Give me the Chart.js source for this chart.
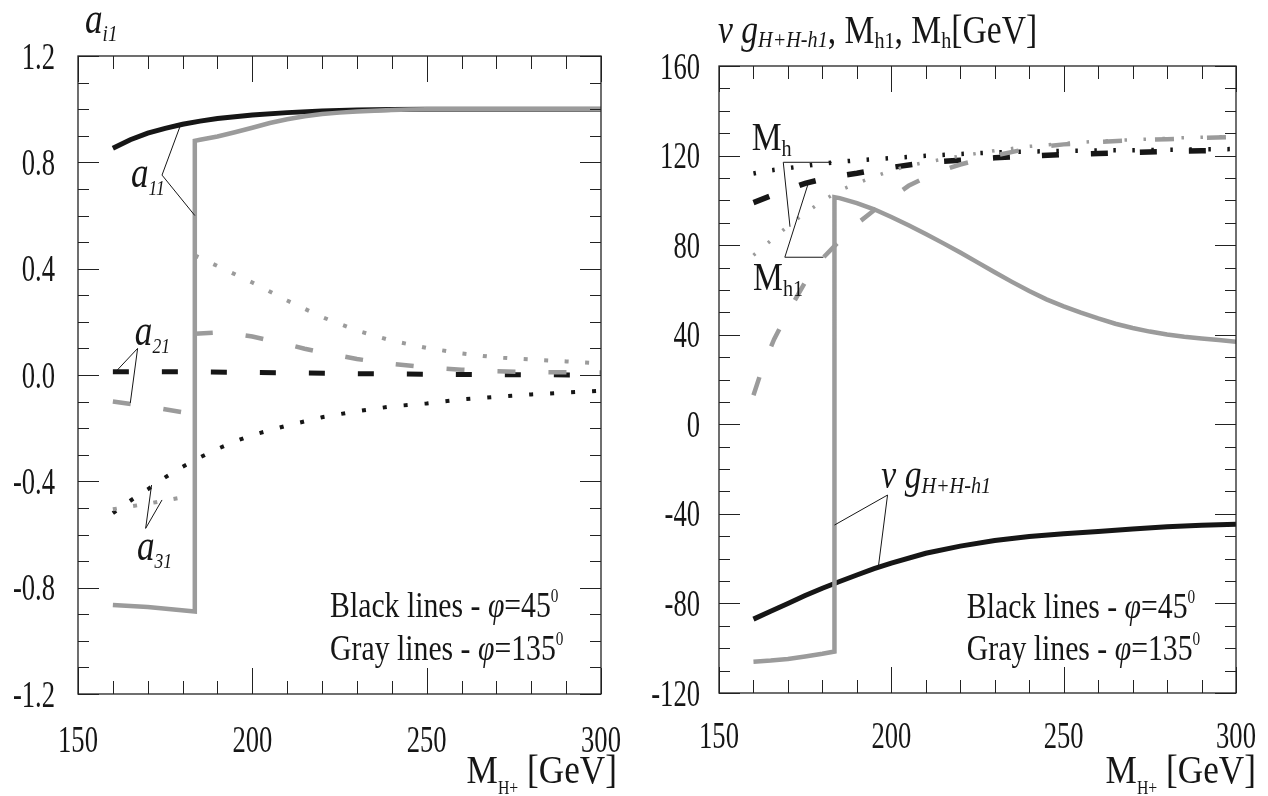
<!DOCTYPE html>
<html>
<head>
<meta charset="utf-8">
<script src="https://cdn.jsdelivr.net/npm/chart.js@4.4.1/dist/chart.umd.min.js"></script>
<style>
html, body { margin: 0; padding: 0; background: #fff; }
#wrap { position: relative; width: 1268px; height: 796px; overflow: hidden; }
#chartA { position: absolute; left: 0; top: 0; }
#chartB { position: absolute; left: 640px; top: 0; }
</style>
</head>
<body>
<div id="wrap">
  <canvas id="chartA" width="640" height="796"></canvas>
  <canvas id="chartB" width="628" height="796"></canvas>
</div>
<script>
// Graduations
const xTicks = [150, 200, 250, 300];
const leftYTicks = [-1.2, -0.8, -0.4, 0.0, 0.4, 0.8, 1.2];
const rightYTicks = [-120, -80, -40, 0, 40, 80, 120, 160];

// --- Panneau gauche : a_i1 ---
// a11, phi = 45 (noir plein)
const a11BlackX = [160, 165, 170, 175, 180, 185, 190, 200, 210, 220, 230, 240, 250, 275, 300];
const a11BlackY = [0.853, 0.885, 0.91, 0.928, 0.943, 0.955, 0.965, 0.978, 0.987, 0.993, 0.997, 0.999, 1.0, 1.0, 1.0];
// a11, phi = 135 (gris plein, saut a 183.5)
const a11GrayX = [160, 170, 183.5, 183.5, 185, 190, 195, 200, 205, 210, 215, 220, 225, 230, 235, 240, 245, 250, 300];
const a11GrayY = [-0.865, -0.873, -0.89, 0.881, 0.885, 0.897, 0.913, 0.93, 0.948, 0.962, 0.973, 0.982, 0.987, 0.991, 0.994, 0.997, 0.999, 1.0, 1.0];
// a21
const a21BlackX = [160, 180, 200, 230, 260, 300];
const a21BlackY = [0.012, 0.012, 0.01, 0.005, 0.002, 0.0];
const a21GrayX = [160, 170, 183.5, 183.5, 183.5, 190, 195, 200, 205, 210, 215, 220, 230, 240, 250, 260, 270, 280, 290, 300];
const a21GrayY = [-0.10, -0.118, -0.148, null, 0.155, 0.16, 0.155, 0.145, 0.13, 0.115, 0.099, 0.085, 0.06, 0.042, 0.029, 0.02, 0.014, 0.011, 0.01, 0.009];
// a31
const a31BlackX = [160, 165, 170, 175, 180, 185, 190, 195, 200, 210, 220, 230, 240, 250, 260, 270, 280, 290, 300];
const a31BlackY = [-0.52, -0.473, -0.43, -0.385, -0.345, -0.31, -0.278, -0.25, -0.226, -0.19, -0.159, -0.136, -0.118, -0.107, -0.092, -0.082, -0.073, -0.066, -0.059];
const a31GrayX = [160, 170, 183.5, 183.5, 183.5, 190, 200, 210, 220, 230, 240, 250, 260, 270, 280, 290, 300];
const a31GrayY = [-0.505, -0.484, -0.452, null, 0.45, 0.41, 0.348, 0.28, 0.218, 0.167, 0.129, 0.102, 0.081, 0.066, 0.058, 0.051, 0.043];

// --- Panneau droit : v g, M_h1, M_h ---
const vgBlackX = [160, 165, 170, 175, 180, 185, 190, 195, 200, 210, 220, 230, 240, 250, 260, 270, 280, 290, 300];
const vgBlackY = [-87, -83.5, -80, -76.5, -73.2, -70.2, -67.3, -64.5, -62, -57.6, -54.4, -51.9, -50.1, -48.9, -47.9, -46.8, -45.8, -45.1, -44.6];
const vgGrayX = [160, 165, 170, 175, 180, 183.5, 183.5, 185, 190, 195, 200, 205, 210, 215, 220, 225, 230, 235, 240, 245, 250, 255, 260, 265, 270, 275, 280, 285, 290, 295, 300];
const vgGrayY = [-106, -105.5, -104.8, -103.7, -102.5, -101.5, 101.4, 101, 98.8, 96, 92.6, 88.9, 85, 80.9, 76.7, 72.3, 67.9, 63.6, 59.5, 55.8, 52.7, 49.9, 47.3, 44.9, 43, 41.4, 40.1, 39.1, 38.3, 37.6, 36.9];
const mhBlackX = [160, 165, 170, 175, 180, 185, 190, 195, 200, 210, 220, 230, 240, 250, 260, 270, 280, 290, 300];
const mhBlackY = [112, 113.4, 114.4, 115.4, 116.4, 117.2, 117.9, 118.4, 118.9, 119.9, 120.7, 121.4, 121.8, 122.1, 122.3, 122.4, 122.6, 122.8, 122.9];
const mhGrayX = [160, 165, 170, 175, 180, 185, 190, 195, 200, 205, 210, 220, 230, 240, 250, 260, 270, 280, 290, 300];
const mhGrayY = [75.5, 82, 88.5, 94.3, 99.7, 104.4, 107.6, 110.6, 113.3, 115.4, 117, 119.8, 122.2, 124.1, 125.4, 126.4, 127.1, 127.7, 128.2, 128.6];
const mh1BlackX = [160, 165, 170, 175, 180, 185, 190, 195, 200, 210, 220, 230, 240, 250, 260, 270, 280, 290, 300];
const mh1BlackY = [99, 102, 104.8, 107.6, 109.5, 111, 112.1, 113.5, 114.7, 116.9, 117.9, 119, 119.8, 120.5, 120.9, 121.4, 121.8, 122.1, 122.3];
const mh1GrayX = [160, 163, 166, 170, 175, 180, 185, 190, 195, 200, 205, 210, 215, 220, 230, 240, 250, 260, 270, 280, 290, 300];
const mh1GrayY = [13, 27, 38, 50, 63.5, 74, 82, 89.5, 95.6, 101, 106.5, 110.3, 113.5, 116, 120, 123.2, 125, 126.1, 126.8, 127.3, 127.9, 128.3];

const BLACK = '#161616';
const GRAY = '#9b9b9b';
const SERIF = '"Liberation Serif", "Times New Roman", serif';

function serie(xs, ys, color, width, dash) {
    return {
        data: xs.map((x, i) => ({ x: x, y: ys[i] })),
        borderColor: color,
        borderWidth: width,
        borderDash: dash || [],
        borderCapStyle: 'butt',
        pointRadius: 0,
        tension: 0,
        spanGaps: false,
        fill: false,
        order: color === GRAY ? 0 : 1 // gris par-dessus
    };
}

// Texte en plusieurs morceaux : [texte, taille, italique, decalage vertical]
function runs(ctx, parts, x, y, align, sx) {
    ctx.save();
    ctx.fillStyle = BLACK;
    ctx.textBaseline = 'alphabetic';
    ctx.textAlign = 'left';
    let total = 0;
    const widths = parts.map(p => {
        ctx.font = (p[2] ? 'italic ' : '') + p[1] + 'px ' + SERIF;
        const w = ctx.measureText(p[0]).width * sx;
        total += w;
        return w;
    });
    let cx = align === 'right' ? x - total : align === 'center' ? x - total / 2 : x;
    parts.forEach((p, i) => {
        ctx.font = (p[2] ? 'italic ' : '') + p[1] + 'px ' + SERIF;
        ctx.save();
        ctx.translate(cx, y + (p[3] || 0));
        ctx.scale(sx, 1);
        ctx.fillText(p[0], 0, 0);
        ctx.restore();
        cx += widths[i];
    });
    ctx.restore();
}

function leader(chart, apex, ends) {
    const { ctx, scales: { x, y } } = chart;
    ctx.save();
    ctx.strokeStyle = BLACK;
    ctx.lineWidth = 1;
    ends.forEach(e => {
        ctx.beginPath();
        ctx.moveTo(x.getPixelForValue(apex[0]), y.getPixelForValue(apex[1]));
        ctx.lineTo(x.getPixelForValue(e[0]), y.getPixelForValue(e[1]));
        ctx.stroke();
    });
    ctx.restore();
}

function px(chart, gev, val) {
    return [chart.scales.x.getPixelForValue(gev), chart.scales.y.getPixelForValue(val)];
}

// Cadre, graduations internes et etiquettes
function frame(chart, yLabels, yStep, fmt, gap, xBase) {
    const { ctx, chartArea: a, scales: { x, y } } = chart;
    ctx.save();
    ctx.strokeStyle = '#222';
    ctx.lineWidth = 1.3;
    ctx.strokeRect(a.left, a.top, a.right - a.left, a.bottom - a.top);
    ctx.lineWidth = 1;
    ctx.beginPath();
    for (let v = x.min; v <= x.max + 0.001; v += 10) {
        const p = Math.round(x.getPixelForValue(v)) + 0.5;
        const len = xTicks.includes(v) ? 26 : 13;
        ctx.moveTo(p, a.top); ctx.lineTo(p, a.top + len);
        ctx.moveTo(p, a.bottom); ctx.lineTo(p, a.bottom - len);
    }
    const n = Math.round((y.max - y.min) / yStep);
    for (let i = 0; i <= n; i++) {
        const p = Math.round(y.getPixelForValue(y.min + i * yStep)) + 0.5;
        const len = i % 4 === 0 ? 21 : 11;
        ctx.moveTo(a.left, p); ctx.lineTo(a.left + len, p);
        ctx.moveTo(a.right, p); ctx.lineTo(a.right - len, p);
    }
    ctx.stroke();
    ctx.restore();
    yLabels.forEach(v => runs(ctx, [[fmt(v), 38, false, 0]], a.left - gap, y.getPixelForValue(v) + 12.5, 'right', 0.7));
    xTicks.forEach(v => runs(ctx, [[String(v), 38, false, 0]], x.getPixelForValue(v), xBase, 'center', 0.7));
}

function legendText(chart, gev, v1, v2) {
    const ctx = chart.ctx;
    const p1 = px(chart, gev, v1), p2 = px(chart, gev, v2);
    runs(ctx, [['Black lines - ', 35, false, 0], ['\u03C6', 35, true, 0], ['=45', 35, false, 0], ['0', 18, false, -15]], p1[0], p1[1], 'left', 0.85);
    runs(ctx, [['Gray lines - ', 35, false, 0], ['\u03C6', 35, true, 0], ['=135', 35, false, 0], ['0', 18, false, -15]], p2[0], p2[1], 'left', 0.85);
}

const decorLeft = {
    id: 'decorLeft',
    afterDraw(chart) {
        const ctx = chart.ctx;
        frame(chart, leftYTicks, 0.1, v => v.toFixed(1), 23, 752);
        // titres
        runs(ctx, [['a', 44, true, 0], ['i1', 24, true, 8]], 85, 33, 'left', 0.8);
        runs(ctx, [['M', 40, false, 0], ['H+', 18, false, 11], [' [GeV]', 40, false, 0]], 617, 783, 'right', 0.88);
        // etiquettes des courbes
        leader(chart, [174.1, 0.752], [[179.4, 0.94], [183.5, 0.60]]);
        let p = px(chart, 165.2, 0.707);
        runs(ctx, [['a', 44, true, 0], ['11', 22, true, 8]], p[0], p[1], 'left', 0.8);
        leader(chart, [167.1, 0.10], [[161.3, 0.019], [165.0, -0.105]]);
        p = px(chart, 166.3, 0.113);
        runs(ctx, [['a', 44, true, 0], ['21', 22, true, 8]], p[0], p[1], 'left', 0.8);
        leader(chart, [169.4, -0.577], [[171.1, -0.414], [174.1, -0.47]]);
        p = px(chart, 166.9, -0.696);
        runs(ctx, [['a', 44, true, 0], ['31', 22, true, 8]], p[0], p[1], 'left', 0.8);
        legendText(chart, 222.3, -0.91, -1.072);
    }
};

const decorRight = {
    id: 'decorRight',
    afterDraw(chart) {
        const ctx = chart.ctx;
        frame(chart, rightYTicks, 10, v => String(v), 19, 748);
        runs(ctx, [['v ', 40, true, 0], ['g', 40, true, 0], ['H+H-h1', 24, true, 4], [', M', 40, false, 0], ['h1', 24, false, 5], [', M', 40, false, 0], ['h', 24, false, 5], ['[GeV]', 40, false, 0]], 78, 43, 'left', 0.84);
        runs(ctx, [['M', 40, false, 0], ['H+', 18, false, 11], [' [GeV]', 40, false, 0]], 616, 783, 'right', 0.88);
        // M_h
        leader(chart, [168.65, 117.0], [[182.7, 117.0], [170.6, 88.2]]);
        let p = px(chart, 159.5, 122.5);
        runs(ctx, [['M', 40, false, 0], ['h', 24, false, 6]], p[0], p[1], 'left', 0.84);
        // M_h1
        leader(chart, [169.1, 74.6], [[180.3, 74.6], [175.9, 107.6]]);
        p = px(chart, 159.9, 60);
        runs(ctx, [['M', 40, false, 0], ['h1', 24, false, 6]], p[0], p[1], 'left', 0.84);
        // v g
        leader(chart, [198.9, -31.6], [[183.5, -45], [196.3, -62.9]]);
        p = px(chart, 197.1, -28.5);
        runs(ctx, [['v ', 40, true, 0], ['g', 40, true, 0], ['H+H-h1', 24, true, 5]], p[0], p[1], 'left', 0.84);
        legendText(chart, 221.9, -86.5, -105.3);
    }
};

function makeChart(id, datasets, yMin, yMax, padding, plugin) {
    return new Chart(document.getElementById(id).getContext('2d'), {
        type: 'line',
        data: { datasets: datasets },
        options: {
            responsive: false,
            animation: false,
            events: [],
            layout: { padding: padding },
            plugins: { legend: { display: false }, tooltip: { enabled: false } },
            scales: {
                x: { type: 'linear', min: 150, max: 300, display: false },
                y: { type: 'linear', min: yMin, max: yMax, display: false }
            }
        },
        plugins: [plugin]
    });
}

makeChart('chartA', [
    serie(a11GrayX, a11GrayY, GRAY, 4.5),
    serie(a21GrayX, a21GrayY, GRAY, 4.5, [18, 33]),
    serie(a31GrayX, a31GrayY, GRAY, 4, [4, 16.5]),
    serie(a11BlackX, a11BlackY, BLACK, 5),
    serie(a21BlackX, a21BlackY, BLACK, 5, [16, 33]),
    serie(a31BlackX, a31BlackY, BLACK, 4, [4, 17])
], -1.2, 1.2, { left: 78, top: 56, right: 39, bottom: 102 }, decorLeft);

makeChart('chartB', [
    serie(vgGrayX, vgGrayY, GRAY, 4.5),
    serie(mh1GrayX, mh1GrayY, GRAY, 4.5, [19, 33]),
    serie(mhGrayX, mhGrayY, GRAY, 3.5, [2.5, 16.5]),
    serie(vgBlackX, vgBlackY, BLACK, 5),
    serie(mh1BlackX, mh1BlackY, BLACK, 5.5, [17, 32]),
    serie(mhBlackX, mhBlackY, BLACK, 4.5, [2.5, 16.5])
], -120, 160, { left: 79, top: 66, right: 32, bottom: 103 }, decorRight);
</script>
</body>
</html>
